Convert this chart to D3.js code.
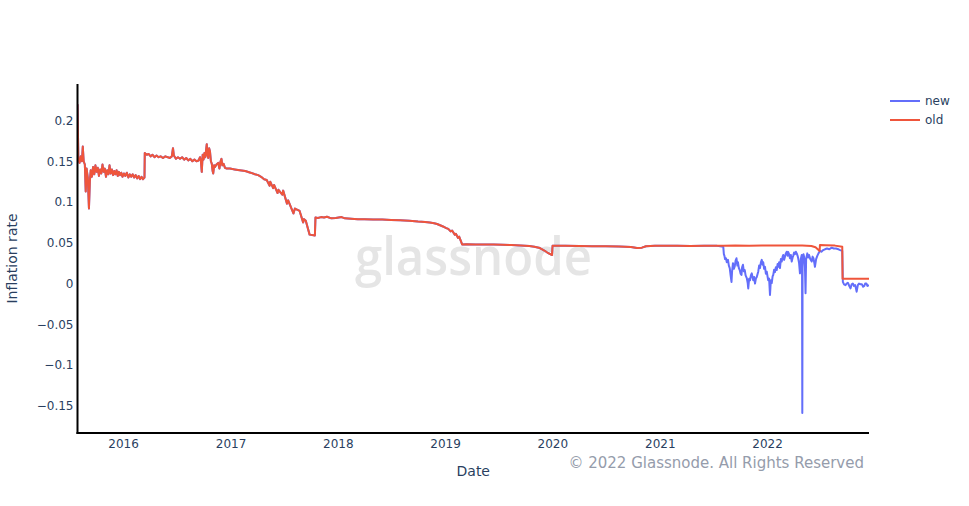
<!DOCTYPE html>
<html>
<head>
<meta charset="utf-8">
<script src="https://cdn.jsdelivr.net/npm/d3@7"></script>
<style>
  html, body { margin: 0; padding: 0; background: #fff; }
  svg { display: block; }
</style>
</head>
<body>
<svg id="chart" width="969" height="506"></svg>
<script>
// ---------------- DATA ----------------
const seriesNames = ["new", "old"];
const seriesColors = ["#636efa", "#EF553B"];

const oldDates = [
  "2015-07-30","2015-08-02","2015-08-06","2015-08-10","2015-08-14","2015-08-17","2015-08-20","2015-08-24","2015-08-27","2015-08-30",
  "2015-09-03","2015-09-07","2015-09-10","2015-09-13","2015-09-17","2015-09-21","2015-09-25","2015-09-29","2015-10-03","2015-10-07",
  "2015-10-11","2015-10-15","2015-10-19","2015-10-23","2015-10-27","2015-10-31","2015-11-04","2015-11-08","2015-11-12","2015-11-16",
  "2015-11-20","2015-11-24","2015-11-28","2015-12-02","2015-12-06","2015-12-10","2015-12-14","2015-12-18","2015-12-22","2015-12-26",
  "2015-12-30","2016-01-04","2016-01-09","2016-01-14","2016-01-19","2016-01-24","2016-01-29","2016-02-03","2016-02-08","2016-02-13",
  "2016-02-18","2016-02-23","2016-02-28","2016-03-04","2016-03-09","2016-03-14","2016-03-15","2016-03-22","2016-03-28","2016-04-04",
  "2016-04-10","2016-04-17","2016-04-24","2016-05-01","2016-05-08","2016-05-16","2016-05-24","2016-06-01","2016-06-08","2016-06-15",
  "2016-06-19","2016-06-22","2016-06-29","2016-07-06","2016-07-13","2016-07-20","2016-07-27","2016-08-03","2016-08-10","2016-08-17",
  "2016-08-24","2016-08-31","2016-09-07","2016-09-14","2016-09-19","2016-09-22","2016-09-25","2016-09-28","2016-10-01","2016-10-04",
  "2016-10-07","2016-10-10","2016-10-12","2016-10-14","2016-10-17","2016-10-20","2016-10-23","2016-10-26","2016-10-29","2016-11-01",
  "2016-11-03","2016-11-06","2016-11-09","2016-11-14","2016-11-20","2016-11-24","2016-11-28","2016-12-01","2016-12-04","2016-12-08",
  "2016-12-13","2016-12-19","2016-12-30","2017-01-15","2017-02-01","2017-02-20","2017-03-10","2017-03-25","2017-04-05","2017-04-15",
  "2017-04-25","2017-05-04","2017-05-14","2017-05-16","2017-05-26","2017-05-29","2017-06-10","2017-06-13","2017-06-26","2017-06-29",
  "2017-07-12","2017-07-16","2017-08-03","2017-08-08","2017-08-24","2017-09-05","2017-09-08","2017-09-14","2017-09-27","2017-10-15",
  "2017-10-17","2017-10-25","2017-11-05","2017-11-15","2017-11-25","2017-12-10","2017-12-25","2018-01-14","2018-01-25","2018-02-15",
  "2018-03-10","2018-04-01","2018-05-01","2018-06-01","2018-07-01","2018-08-01","2018-09-01","2018-10-01","2018-10-25","2018-11-10",
  "2018-11-25","2018-12-05","2018-12-15","2018-12-25","2019-01-05","2019-01-12","2019-01-20","2019-01-25","2019-02-03","2019-02-07",
  "2019-02-14","2019-02-18","2019-02-25","2019-02-28","2019-03-15","2019-04-15","2019-05-15","2019-06-15","2019-07-15","2019-08-15",
  "2019-09-15","2019-10-15","2019-11-01","2019-11-20","2019-12-05","2019-12-15","2019-12-31","2020-01-02","2020-02-15","2020-04-01",
  "2020-05-15","2020-07-01","2020-08-15","2020-09-25","2020-10-15","2020-11-01","2020-11-15","2020-12-15","2021-01-15","2021-03-01",
  "2021-04-15","2021-06-01","2021-07-15","2021-08-05","2021-09-15","2021-11-01","2021-12-15","2022-02-01","2022-03-15","2022-05-01",
  "2022-06-01","2022-06-15","2022-06-29","2022-06-30","2022-07-20","2022-08-20","2022-09-14","2022-09-15","2022-12-14"
];
const oldValues = [
  0.220,0.152,0.148,0.156,0.150,0.168,0.150,0.146,0.113,0.141,
  0.130,0.092,0.125,0.139,0.131,0.143,0.134,0.145,0.137,0.142,
  0.132,0.140,0.135,0.146,0.137,0.141,0.131,0.139,0.134,0.145,
  0.135,0.140,0.133,0.138,0.134,0.139,0.132,0.137,0.133,0.136,
  0.131,0.135,0.132,0.136,0.130,0.134,0.131,0.134,0.130,0.133,
  0.129,0.132,0.128,0.131,0.128,0.130,0.160,0.158,0.159,0.156,
  0.158,0.155,0.157,0.155,0.156,0.154,0.156,0.155,0.154,0.156,
  0.166,0.157,0.153,0.155,0.153,0.155,0.152,0.154,0.151,0.153,
  0.150,0.152,0.150,0.151,0.155,0.150,0.137,0.158,0.152,0.160,
  0.155,0.165,0.171,0.158,0.154,0.166,0.162,0.150,0.147,0.138,
  0.135,0.145,0.143,0.146,0.148,0.141,0.150,0.153,0.145,0.147,
  0.142,0.141,0.141,0.140,0.139,0.138,0.136,0.134,0.133,0.131,
  0.128,0.127,0.120,0.125,0.117,0.121,0.111,0.115,0.109,0.114,
  0.098,0.102,0.086,0.092,0.089,0.075,0.079,0.077,0.060,0.059,
  0.081,0.0805,0.0815,0.081,0.082,0.080,0.0805,0.0815,0.080,0.0795,
  0.079,0.079,0.0785,0.0785,0.078,0.0775,0.077,0.076,0.0755,0.0748,
  0.074,0.073,0.0715,0.070,0.068,0.067,0.064,0.065,0.060,0.061,
  0.056,0.0575,0.051,0.048,0.0482,0.048,0.0478,0.0478,0.0475,0.0472,
  0.0468,0.046,0.0452,0.0435,0.0405,0.038,0.035,0.0462,0.0462,0.046,
  0.0458,0.0458,0.0455,0.0448,0.0435,0.044,0.0458,0.0462,0.0462,0.0462,
  0.046,0.0462,0.0462,0.0462,0.0465,0.0462,0.0468,0.0468,0.0467,0.0465,
  0.046,0.0445,0.040,0.0472,0.047,0.0465,0.045,0.006,0.006
];

// "new" follows "old" until the London fork, then diverges
const forkDate = "2021-08-05";
const newDates = [
  "2021-08-05","2021-08-07","2021-08-09","2021-08-11","2021-08-14","2021-08-17","2021-08-21","2021-08-24","2021-08-27","2021-08-30",
  "2021-09-02","2021-09-04","2021-09-07","2021-09-10","2021-09-13","2021-09-16","2021-09-19","2021-09-22","2021-09-24","2021-09-27",
  "2021-09-30","2021-10-03","2021-10-06","2021-10-08","2021-10-11","2021-10-14","2021-10-17","2021-10-20","2021-10-24","2021-10-27",
  "2021-10-29","2021-11-01","2021-11-04","2021-11-07","2021-11-10","2021-11-13","2021-11-15","2021-11-18","2021-11-21","2021-11-24",
  "2021-11-27","2021-11-30","2021-12-02","2021-12-05","2021-12-08","2021-12-11","2021-12-14","2021-12-17","2021-12-19","2021-12-22",
  "2021-12-25","2021-12-28","2021-12-31","2022-01-03","2022-01-05","2022-01-08","2022-01-11","2022-01-14","2022-01-17","2022-01-20",
  "2022-01-22","2022-01-25","2022-01-28","2022-01-31","2022-02-03","2022-02-06","2022-02-08","2022-02-11","2022-02-14","2022-02-17",
  "2022-02-20","2022-02-23","2022-02-25","2022-02-28","2022-03-03","2022-03-06","2022-03-09","2022-03-12","2022-03-14","2022-03-17",
  "2022-03-20","2022-03-23","2022-03-26","2022-03-29","2022-03-31","2022-04-03","2022-04-06","2022-04-09","2022-04-12","2022-04-15",
  "2022-04-17","2022-04-20","2022-04-23","2022-04-26","2022-04-29","2022-04-30","2022-05-01","2022-05-02","2022-05-05","2022-05-07",
  "2022-05-10","2022-05-12","2022-05-14","2022-05-18","2022-05-21","2022-05-24","2022-05-28","2022-06-02","2022-06-05","2022-06-08",
  "2022-06-11","2022-06-13","2022-06-17","2022-06-21","2022-06-25","2022-06-30","2022-07-05","2022-07-11","2022-07-17","2022-07-24",
  "2022-08-01","2022-08-09","2022-08-16","2022-08-24","2022-09-01","2022-09-07","2022-09-14","2022-09-16","2022-09-20","2022-09-25",
  "2022-09-29","2022-10-03","2022-10-08","2022-10-12","2022-10-16","2022-10-20","2022-10-24","2022-10-28","2022-11-02","2022-11-06",
  "2022-11-10","2022-11-15","2022-11-20","2022-11-24","2022-11-28","2022-12-01","2022-12-05","2022-12-09","2022-12-14"
];
const newValues = [
  0.045,0.036,0.034,0.030,0.031,0.026,0.029,0.022,0.019,0.010,
  0.002,0.015,0.025,0.018,0.021,0.028,0.031,0.022,0.026,0.019,
  0.0166,0.012,0.0104,0.020,0.023,0.015,0.0166,0.010,0.0067,0.001,
  -0.006,0.006,0.004,0.010,0.0125,0.007,0.004,0.008,0.000,0.006,
  0.008,0.012,0.0145,0.022,0.019,0.026,0.029,0.023,0.026,0.018,
  0.0205,0.012,0.0145,0.008,0.004,0.006,-0.014,0.004,0.0006,0.009,
  0.0104,0.017,0.014,0.020,0.0166,0.024,0.0205,0.026,0.019,0.030,
  0.027,0.033,0.035,0.029,0.033,0.037,0.039,0.034,0.0386,0.036,
  0.031,0.035,0.027,0.032,0.034,0.038,0.036,0.039,0.037,0.034,
  0.031,0.025,0.0125,0.030,0.035,0.034,-0.159,0.031,0.036,0.033,
  0.020,-0.012,0.030,0.037,0.032,0.035,0.030,0.027,0.033,0.031,
  0.025,0.0205,0.030,0.034,0.037,0.040,0.039,0.041,0.042,0.043,
  0.042,0.044,0.043,0.043,0.042,0.041,0.040,0.002,-0.001,-0.002,
  0.000,0.001,-0.003,-0.006,-0.001,0.000,-0.003,-0.002,-0.010,-0.002,
  0.000,-0.001,-0.001,-0.004,-0.003,0.000,0.000,-0.003,-0.002
];

const yTickValues = [-0.15, -0.1, -0.05, 0, 0.05, 0.1, 0.15, 0.2];
const yTickLabels = ["\u22120.15", "\u22120.1", "\u22120.05", "0", "0.05", "0.1", "0.15", "0.2"];
const xDomain = ["2015-07-30", "2022-12-14"];
const yDomain = [-0.1834, 0.2448];

// ---------------- CHART ----------------
const parse = d3.utcParse("%Y-%m-%d");
const oldSeries = oldDates.map((d, i) => ({ date: parse(d), value: oldValues[i] }));
const fork = parse(forkDate);
const newSeries = oldSeries.filter(p => p.date < fork)
  .concat(newDates.map((d, i) => ({ date: parse(d), value: newValues[i] })));

const svg = d3.select("#chart");
const plot = { left: 77.5, right: 869, top: 84, bottom: 433 };
const font = "'DejaVu Sans', Verdana, sans-serif";
const textColor = "#2a3f5f";

const x = d3.scaleUtc().domain(xDomain.map(parse)).range([plot.left, plot.right]);
const y = d3.scaleLinear().domain(yDomain).range([plot.bottom, plot.top]);

svg.append("defs").append("clipPath").attr("id", "clip")
  .append("rect").attr("x", plot.left).attr("y", plot.top)
  .attr("width", plot.right - plot.left).attr("height", plot.bottom - plot.top);

// watermark
svg.append("text")
  .attr("x", 473.5).attr("y", 275)
  .attr("text-anchor", "middle")
  .attr("font-family", "'Open Sans', sans-serif")
  .attr("font-size", 52)
  .attr("font-weight", 600)
  .attr("fill", "#e5e5e5")
  .attr("textLength", 237).attr("lengthAdjust", "spacingAndGlyphs")
  .text("glassnode");

const line = d3.line().x(d => x(d.date)).y(d => y(d.value));
const gLines = svg.append("g").attr("clip-path", "url(#clip)");
[newSeries, oldSeries].forEach((s, i) => {
  gLines.append("path").datum(s)
    .attr("fill", "none").attr("stroke", seriesColors[i])
    .attr("stroke-width", 2).attr("stroke-linejoin", "round")
    .attr("d", line);
});

// axes
const xAxis = d3.axisBottom(x).ticks(d3.utcYear.every(1)).tickFormat(d3.utcFormat("%Y")).tickSize(0).tickPadding(6);
const gx = svg.append("g").attr("transform", `translate(0,${plot.bottom})`).call(xAxis);
gx.select(".domain").remove();
gx.selectAll("text").attr("font-family", font).attr("font-size", 12).attr("fill", textColor);

const yAxis = d3.axisLeft(y).tickValues(yTickValues).tickFormat((d, i) => yTickLabels[i]).tickSize(0).tickPadding(4);
const gy = svg.append("g").attr("transform", `translate(${plot.left},0)`).call(yAxis);
gy.select(".domain").remove();
gy.selectAll("text").attr("font-family", font).attr("font-size", 12).attr("fill", textColor);

svg.append("line").attr("x1", plot.left).attr("x2", plot.left)
  .attr("y1", plot.top).attr("y2", plot.bottom + 1)
  .attr("stroke", "#000").attr("stroke-width", 2);
svg.append("line").attr("x1", plot.left - 1).attr("x2", plot.right)
  .attr("y1", plot.bottom).attr("y2", plot.bottom)
  .attr("stroke", "#000").attr("stroke-width", 2);

// titles
svg.append("text").attr("x", (plot.left + plot.right) / 2).attr("y", 476)
  .attr("text-anchor", "middle").attr("font-family", font).attr("font-size", 14)
  .attr("fill", textColor).text("Date");
svg.append("text").attr("transform", `translate(17,${(plot.top + plot.bottom) / 2}) rotate(-90)`)
  .attr("text-anchor", "middle").attr("font-family", font).attr("font-size", 14)
  .attr("fill", textColor).text("Inflation rate");

// copyright
svg.append("text").attr("x", 864).attr("y", 468)
  .attr("text-anchor", "end").attr("font-family", font).attr("font-size", 15)
  .attr("fill", "#959cab").text("\u00a9 2022 Glassnode. All Rights Reserved");

// legend
const legend = svg.append("g");
seriesNames.forEach((name, i) => {
  const ly = 101 + i * 19;
  legend.append("line").attr("x1", 890).attr("x2", 920).attr("y1", ly).attr("y2", ly)
    .attr("stroke", seriesColors[i]).attr("stroke-width", 2);
  legend.append("text").attr("x", 925).attr("y", ly + 4)
    .attr("font-family", font).attr("font-size", 12).attr("fill", textColor).text(name);
});
</script>
</body>
</html>
